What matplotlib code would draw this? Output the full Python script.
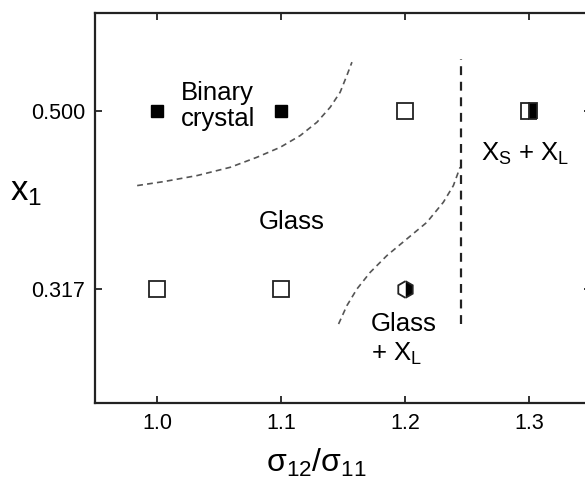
import numpy as np
import matplotlib
matplotlib.use("Agg")
import matplotlib.pyplot as plt

plt.rcParams['font.family'] = ['Liberation Sans', 'DejaVu Sans']
plt.rcParams['mathtext.fontset'] = 'custom'
plt.rcParams['mathtext.rm'] = 'Liberation Sans'
plt.rcParams['mathtext.it'] = 'Liberation Sans'

# ---- state points (size ratio, composition) ----
crystal_ratio = [1.0, 1.1]
crystal_x1 = [0.500, 0.500]

glass_ratio = [1.2, 1.0, 1.1]
glass_x1 = [0.500, 0.317, 0.317]

xs_xl_ratio = [1.3]
xs_xl_x1 = [0.500]

glass_xl_ratio = [1.2]
glass_xl_x1 = [0.317]

# ---- phase boundaries (hand drawn guides) ----
crystal_bound_ratio = [0.984, 1.0055, 1.0324, 1.0592, 1.0807, 1.0994,
                       1.1155, 1.129, 1.1397, 1.1477, 1.1531, 1.1572]
crystal_bound_x1 = [0.423, 0.4271, 0.4333, 0.4418, 0.4521, 0.4623,
                    0.4743, 0.488, 0.5034, 0.5188, 0.5359, 0.5496]

glass_bound_ratio = [1.1464, 1.1531, 1.1612, 1.1719, 1.1853, 1.2015,
                     1.2176, 1.2309, 1.239, 1.2444]
glass_bound_x1 = [0.281, 0.2998, 0.3169, 0.334, 0.3511, 0.3683,
                  0.3853, 0.4059, 0.423, 0.4418]

xs_bound_ratio = [1.245, 1.245]
xs_bound_x1 = [0.281, 0.553]

xticks = [1.0, 1.1, 1.2, 1.3]
xtick_labels = ['1.0', '1.1', '1.2', '1.3']
yticks = [0.317, 0.500]
ytick_labels = ['0.317', '0.500']

fig = plt.figure(figsize=(5.85, 4.82), dpi=100)
ax = fig.add_axes([0.1624, 0.1639, 0.8479, 0.8091])

edge = '#222222'

# boundaries
ax.plot(crystal_bound_ratio, crystal_bound_x1, ls=(0, (3.5, 2.5)), color='#555555', lw=1.2)
ax.plot(glass_bound_ratio, glass_bound_x1, ls=(0, (3.5, 2.5)), color='#555555', lw=1.2)
ax.plot(xs_bound_ratio, xs_bound_x1, ls=(0, (4, 3)), color='#222222', lw=1.6)

# points
ax.plot(crystal_ratio, crystal_x1, 's', ms=9, color='black', mec='black', mew=1)
ax.plot(glass_ratio, glass_x1, 's', ms=11, mfc='white', mec=edge, mew=1.3)
ax.plot(xs_xl_ratio, xs_xl_x1, 's', ms=11, fillstyle='right', mfc='black',
        mfcalt='white', mec=edge, mew=1.3)
ax.plot(glass_xl_ratio, glass_xl_x1, 'h', ms=12, fillstyle='right', mfc='black',
        mfcalt='white', mec=edge, mew=1.3)

# region labels
ax.text(1.019, 0.5045, 'Binary\ncrystal', fontsize=18.5, ha='left', va='center',
        linespacing=1.12)
ax.text(1.1083, 0.386, 'Glass', fontsize=18.5, ha='center', va='center')
ax.text(1.297, 0.456, r'X$_\mathregular{S}$ + X$_\mathregular{L}$', fontsize=18.5,
        ha='center', va='center')
ax.text(1.1725, 0.293, 'Glass\n+ X$_\\mathregular{L}$', fontsize=18.5, ha='left', va='top',
        linespacing=1.2)

ax.set_xlim(0.95, 1.35)
ax.set_ylim(0.2, 0.6)
ax.set_xticks(xticks)
ax.set_xticklabels(xtick_labels)
ax.set_yticks(yticks)
ax.set_yticklabels(ytick_labels)
ax.tick_params(direction='in', length=5, width=1.3, color=edge, labelsize=15.5,
               top=True, right=True, pad=7)
for s in ax.spines.values():
    s.set_linewidth(1.6)
    s.set_color(edge)

ax.set_xlabel(r'$\mathregular{\sigma_{12}/\sigma_{11}}$', fontsize=23)
ax.xaxis.set_label_coords(0.447, -0.112)
ax.set_ylabel(r'$\mathregular{x_1}$', fontsize=25, rotation=0)
ax.yaxis.set_label_coords(-0.14, 0.50)

fig.savefig('out.png', dpi=100)
